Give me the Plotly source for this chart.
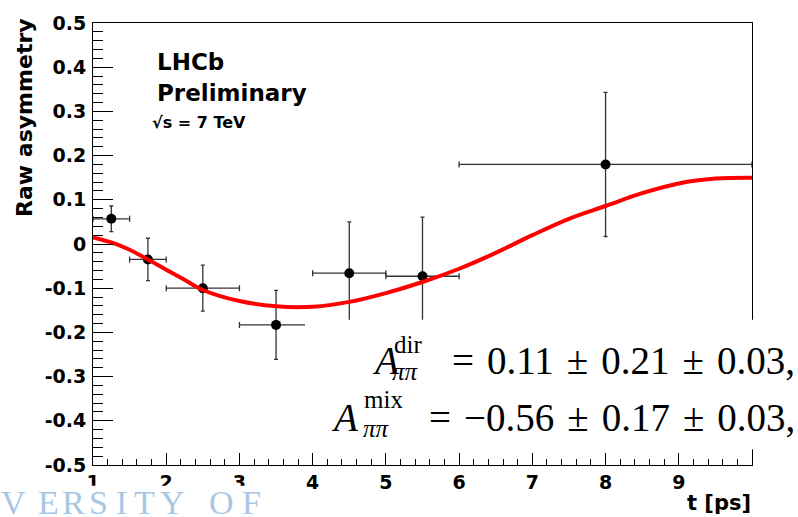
import plotly.graph_objects as go

# ---------------- data ----------------
t_bin = [1.25, 1.75, 2.5, 3.5, 4.5, 5.5, 8.0]
t_halfwidth = [0.25, 0.25, 0.5, 0.5, 0.5, 0.5, 2.0]
asym = [0.057, -0.035, -0.100, -0.183, -0.066, -0.073, 0.180]
asym_err = [0.029, 0.048, 0.052, 0.078, 0.116, 0.134, 0.163]

fit_t = [1.0, 1.3, 1.5, 1.75, 2.0, 2.25, 2.5, 3.0, 3.5, 4.0, 4.5, 5.0,
         5.5, 6.0, 6.5, 7.0, 7.5, 8.0, 8.5, 9.0, 9.5, 10.0]
fit_asym = [0.015, 0.001, -0.013, -0.035, -0.058, -0.081, -0.104, -0.129,
            -0.141, -0.142, -0.131, -0.111, -0.086, -0.056, -0.020, 0.020,
            0.057, 0.086, 0.115, 0.137, 0.148, 0.150]

x_ticks = [1, 2, 3, 4, 5, 6, 7, 8, 9]
x_ticklabels = ["1", "2", "3", "4", "5", "6", "7", "8", "9"]
y_ticks = [-0.5, -0.4, -0.3, -0.2, -0.1, 0.0, 0.1, 0.2, 0.3, 0.4, 0.5]
y_ticklabels = ["-0.5", "-0.4", "-0.3", "-0.2", "-0.1", "0",
                "0.1", "0.2", "0.3", "0.4", "0.5"]

logo_letters = ["V", "E", "R", "S", "I", "T", "Y", "O", "F"]

# ---------------- layout helpers (pixel -> paper) ----------------
W, H = 798, 517
L, R, T, B = 93, 752, 18, 465
PW, PH = R - L, B - T


def px(x):
    return (x - L) / PW


def py(y):
    return (B - y) / PH


SANS = "DejaVu Sans"
SERIF = "Liberation Serif"

fig = go.Figure()

fig.add_trace(go.Scatter(
    x=t_bin, y=asym, mode="markers",
    marker=dict(color="black", size=10),
    error_x=dict(type="data", array=t_halfwidth, color="#333333",
                 thickness=1.3, width=3),
    error_y=dict(type="data", array=asym_err, color="#333333",
                 thickness=1.3, width=2),
    hoverinfo="skip",
))

fig.add_trace(go.Scatter(
    x=fit_t, y=fit_asym, mode="lines",
    line=dict(color="#ff0000", width=4, shape="spline", smoothing=1.0),
    hoverinfo="skip",
))

fig.update_layout(
    width=W, height=H,
    margin=dict(l=L, r=W - R, t=T, b=H - B, pad=0),
    plot_bgcolor="white", paper_bgcolor="white",
    showlegend=False,
)

fig.update_xaxes(
    range=[1, 10], tickmode="array", tickvals=x_ticks, ticktext=x_ticklabels,
    ticks="inside", ticklen=12, tickwidth=1, tickcolor="black",
    showline=True, linecolor="black", linewidth=1, mirror=True,
    showgrid=False, zeroline=False, ticklabelstandoff=0,
    tickfont=dict(family=SANS, size=19, color="black", weight="bold"),
    minor=dict(ticks="inside", ticklen=6, tickwidth=1, tickcolor="black",
               tickmode="linear", tick0=1, dtick=0.2, showgrid=False),
)
fig.update_yaxes(
    range=[-0.5, 0.5], tickmode="array", tickvals=y_ticks, ticktext=y_ticklabels,
    ticks="inside", ticklen=20, tickwidth=1, tickcolor="black",
    showline=True, linecolor="black", linewidth=1, mirror=True,
    showgrid=False, zeroline=False, ticklabelstandoff=2,
    tickfont=dict(family=SANS, size=19, color="black", weight="bold"),
    minor=dict(ticks="inside", ticklen=10, tickwidth=1, tickcolor="black",
               tickmode="linear", tick0=-0.5, dtick=0.02, showgrid=False),
)

shapes = [
    # white box behind the formula (covers frame / error bars like the original)
    dict(type="rect", xref="paper", yref="paper", x0=px(305), x1=px(800),
         y0=py(449), y1=py(318), fillcolor="white", line=dict(width=0),
         layer="above"),
    # white logo box at bottom-left
    dict(type="rect", xref="paper", yref="paper", x0=px(-2), x1=px(272),
         y0=py(520), y1=py(486), fillcolor="white", line=dict(width=0),
         layer="above"),
]
fig.update_layout(shapes=shapes)

ann = []


def add_text(text, x, y, size, family=SANS, xanchor="left", yanchor="middle",
             color="black", weight="normal", angle=0):
    ann.append(dict(text=text, x=px(x), y=py(y), xref="paper", yref="paper",
                    xanchor=xanchor, yanchor=yanchor, showarrow=False,
                    textangle=angle,
                    font=dict(family=family, size=size, color=color,
                              weight=weight)))


# axis titles
add_text("Raw asymmetry", 25, 114, 22, xanchor="center", yanchor="middle",
         weight="bold", angle=-90)
add_text("t [ps]", 753, 503, 21, xanchor="right", weight="bold")

# LHCb labels
add_text("LHCb", 155, 57, 23, weight="bold")
add_text("Preliminary", 155, 89, 23, weight="bold")
add_text("√s = 7 TeV", 150, 119, 16, weight="bold")

# formula
sp = "\u2004"
add_text("<i>A</i>", 370, 359, 39, family=SERIF)
add_text("dir", 392, 343, 25, family=SERIF)
add_text("<i>ππ</i>", 390, 370, 25, family=SERIF)
add_text("=" + sp + "0.11" + sp + "±" + sp + "0.21" + sp + "±" + sp + "0.03,",
         797, 359, 39, family=SERIF, xanchor="right")
add_text("<i>A</i>", 329, 417, 39, family=SERIF)
add_text("mix", 362, 399, 25, family=SERIF)
add_text("<i>ππ</i>", 361, 428, 25, family=SERIF)
add_text("=" + sp + "−0.56" + sp + "±" + sp + "0.17" + sp + "±" + sp + "0.03,",
         797, 417, 39, family=SERIF, xanchor="right")

# logo fragment
logo_x = [13, 48, 73, 98, 121, 144, 172, 221, 251]
for ch, xc in zip(logo_letters, logo_x):
    add_text(ch, xc, 482, 34, family=SERIF, xanchor="center", yanchor="top",
             color="#a9c7e3")

fig.update_layout(annotations=ann)

fig.write_html("out.html")
